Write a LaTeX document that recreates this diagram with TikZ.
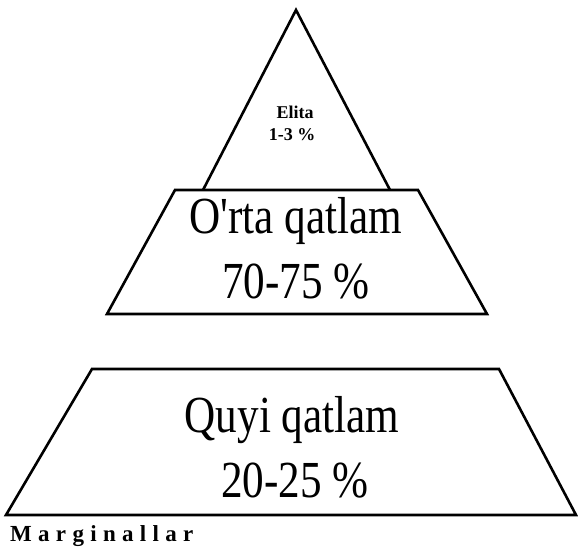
\documentclass[tikz,border=0pt]{standalone}
\usepackage{fontspec}
\usepackage{graphicx}
\setmainfont{Liberation Serif}
% letter-spaced word: a fixed kern after each letter
\makeatletter
\newcommand\trackedword[1]{\@tfor\tr@letter:=#1\do{\tr@letter\kern6.3pt}}
\makeatother
\begin{document}
\begin{tikzpicture}[x=1pt,y=-1pt,
  tier/.style={line width=2.6pt,line join=miter},
  bigtext/.style={inner sep=0pt,anchor=base,font=\fontsize{52}{52}\selectfont},
  smalltext/.style={inner sep=0pt,anchor=base,font=\bfseries\fontsize{18}{18}\selectfont}]
\useasboundingbox (0,0) rectangle (578,546);
% apex tier
\coordinate (apex) at (296,10);
\coordinate (tl) at (203,190);
\coordinate (tr) at (390,190);
% middle tier
\coordinate (m1) at (175,190);
\coordinate (m2) at (418,190);
\coordinate (m3) at (487,314);
\coordinate (m4) at (107,314);
% lower tier
\coordinate (q1) at (92,369);
\coordinate (q2) at (499,369);
\coordinate (q3) at (576,515);
\coordinate (q4) at (6,515);
\draw[tier] (tl) -- (apex) -- (tr);
\draw[tier] (m1) -- (m2) -- (m3) -- (m4) -- cycle;
\draw[tier] (q1) -- (q2) -- (q3) -- (q4) -- cycle;
% labels
\node[smalltext] (elita) at (295,118) {Elita};
\node[smalltext] (elitap) at (292,140) {1-3 \%};
\node[bigtext] (orta) at (296,233) {\scalebox{0.83}[1]{O\textquotesingle rta qatlam}};
\node[bigtext] (ortap) at (296,298) {\scalebox{0.83}[1]{70-75 \%}};
\node[bigtext] (quyi) at (292,432) {\scalebox{0.83}[1]{Quyi qatlam}};
\node[bigtext] (quyip) at (295,497) {\scalebox{0.83}[1]{20-25 \%}};
\node[inner sep=0pt,anchor=base west,font=\bfseries\fontsize{23}{23}\selectfont] (marg) at (10,541) {\trackedword{Marginallar}};
\end{tikzpicture}
\end{document}
